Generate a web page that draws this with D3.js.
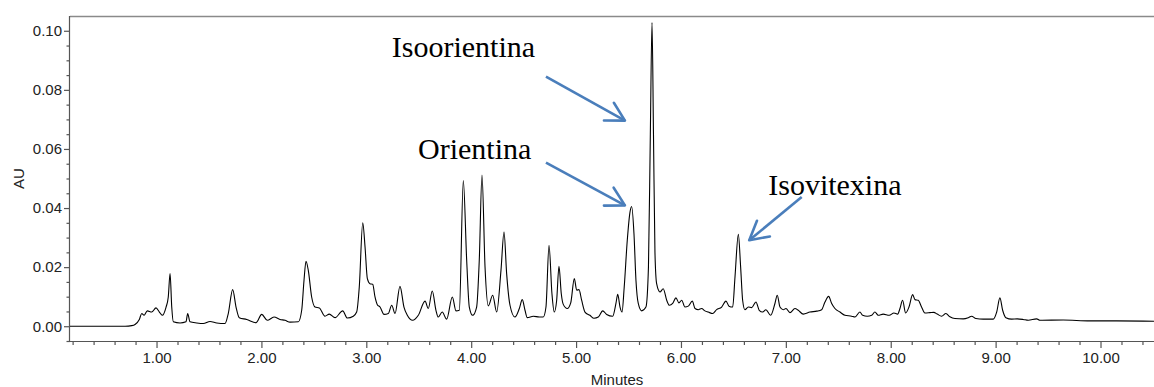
<!DOCTYPE html>
<html>
<head>
<meta charset="utf-8">
<script src="https://cdn.jsdelivr.net/npm/d3@7"></script>
<style>
    body { margin: 0; background: #fff; }
    #chart { width: 1154px; height: 387px; }
</style>
</head>
<body>
<div id="chart"></div>
<script>
// retention time (min) and absorbance (AU)
const times = [
    0.175, 0.70, 0.764, 0.795, 0.836, 0.859, 0.881, 0.912, 0.954, 0.995,
    1.027, 1.055, 1.091, 1.112, 1.129, 1.145, 1.160, 1.224, 1.281, 1.297,
    1.319, 1.383, 1.446, 1.510, 1.574, 1.653, 1.684, 1.726, 1.758, 1.789,
    1.860, 1.949, 2.003, 2.056, 2.120, 2.177, 2.225, 2.273, 2.352, 2.384,
    2.406, 2.425, 2.447, 2.479, 2.511, 2.552, 2.606, 2.647, 2.702, 2.775,
    2.819, 2.876, 2.908, 2.933, 2.966, 2.988, 3.010, 3.035, 3.061, 3.083,
    3.105, 3.131, 3.169, 3.210, 3.242, 3.274, 3.321, 3.359, 3.391, 3.442,
    3.496, 3.560, 3.591, 3.629, 3.664, 3.686, 3.724, 3.766, 3.820, 3.855,
    3.887, 3.925, 3.957, 3.982, 4.014, 4.052, 4.077, 4.103, 4.132, 4.163,
    4.205, 4.243, 4.284, 4.313, 4.338, 4.370, 4.417, 4.459, 4.487, 4.513,
    4.535, 4.592, 4.649, 4.687, 4.713, 4.742, 4.770, 4.792, 4.815, 4.837,
    4.859, 4.878, 4.916, 4.949, 4.983, 5.006, 5.028, 5.053, 5.085, 5.132,
    5.171, 5.212, 5.254, 5.292, 5.349, 5.380, 5.397, 5.419, 5.438, 5.459,
    5.488, 5.514, 5.530, 5.552, 5.571, 5.593, 5.625, 5.666, 5.690, 5.708,
    5.724, 5.738, 5.752, 5.768, 5.800, 5.831, 5.864, 5.889, 5.921, 5.952,
    5.981, 6.007, 6.038, 6.070, 6.108, 6.134, 6.165, 6.197, 6.229, 6.260,
    6.302, 6.340, 6.388, 6.429, 6.458, 6.493, 6.515, 6.547, 6.569, 6.588,
    6.610, 6.642, 6.674, 6.715, 6.746, 6.779, 6.810, 6.855, 6.896, 6.918,
    6.944, 6.975, 7.001, 7.039, 7.087, 7.118, 7.166, 7.230, 7.294, 7.341,
    7.373, 7.408, 7.437, 7.468, 7.516, 7.563, 7.627, 7.659, 7.706, 7.732,
    7.776, 7.818, 7.849, 7.881, 7.928, 7.986, 8.031, 8.066, 8.088, 8.113,
    8.142, 8.174, 8.209, 8.231, 8.262, 8.294, 8.325, 8.373, 8.411, 8.443,
    8.485, 8.526, 8.564, 8.612, 8.691, 8.739, 8.771, 8.812, 8.882, 8.977,
    9.010, 9.041, 9.067, 9.098, 9.153, 9.206, 9.263, 9.311, 9.391, 9.422,
    9.644, 9.899, 10.153, 10.51
]

const absorbance = [
    0.0000, 0.0000, 0.0002, 0.0006, 0.0023, 0.0043, 0.0037, 0.0052, 0.0048, 0.0062,
    0.0048, 0.0037, 0.0065, 0.0099, 0.0178, 0.0065, 0.0015, 0.0011, 0.0015, 0.0043,
    0.0015, 0.0011, 0.0009, 0.0016, 0.0011, 0.0009, 0.0043, 0.0124, 0.0065, 0.0029,
    0.0023, 0.0012, 0.0040, 0.0020, 0.0031, 0.0023, 0.0020, 0.0014, 0.0015, 0.0054,
    0.0155, 0.0220, 0.0189, 0.0099, 0.0065, 0.0062, 0.0034, 0.0041, 0.0029, 0.0052,
    0.0028, 0.0034, 0.0048, 0.0133, 0.0350, 0.0268, 0.0161, 0.0144, 0.0142, 0.0099,
    0.0073, 0.0065, 0.0040, 0.0043, 0.0071, 0.0043, 0.0135, 0.0065, 0.0037, 0.0020,
    0.0037, 0.0085, 0.0060, 0.0119, 0.0054, 0.0031, 0.0048, 0.0024, 0.0099, 0.0052,
    0.0054, 0.0493, 0.0223, 0.0065, 0.0037, 0.0065, 0.0223, 0.0512, 0.0200, 0.0069,
    0.0105, 0.0048, 0.0189, 0.0319, 0.0178, 0.0071, 0.0031, 0.0060, 0.0090, 0.0054,
    0.0029, 0.0034, 0.0031, 0.0031, 0.0065, 0.0274, 0.0110, 0.0048, 0.0088, 0.0203,
    0.0110, 0.0074, 0.0060, 0.0079, 0.0161, 0.0122, 0.0124, 0.0088, 0.0048, 0.0037,
    0.0027, 0.0031, 0.0052, 0.0040, 0.0034, 0.0077, 0.0108, 0.0065, 0.0048, 0.0133,
    0.0290, 0.0386, 0.0405, 0.0313, 0.0155, 0.0077, 0.0052, 0.0065, 0.0200, 0.0650,
    0.1028, 0.0650, 0.0250, 0.0144, 0.0116, 0.0127, 0.0088, 0.0071, 0.0077, 0.0096,
    0.0079, 0.0088, 0.0065, 0.0068, 0.0085, 0.0060, 0.0056, 0.0060, 0.0052, 0.0048,
    0.0043, 0.0056, 0.0065, 0.0085, 0.0068, 0.0065, 0.0166, 0.0311, 0.0200, 0.0088,
    0.0056, 0.0065, 0.0063, 0.0082, 0.0054, 0.0048, 0.0056, 0.0037, 0.0077, 0.0105,
    0.0065, 0.0056, 0.0060, 0.0046, 0.0060, 0.0054, 0.0041, 0.0048, 0.0051, 0.0056,
    0.0082, 0.0101, 0.0077, 0.0060, 0.0048, 0.0037, 0.0034, 0.0031, 0.0048, 0.0037,
    0.0034, 0.0037, 0.0048, 0.0037, 0.0041, 0.0037, 0.0045, 0.0041, 0.0060, 0.0088,
    0.0045, 0.0065, 0.0107, 0.0090, 0.0088, 0.0065, 0.0045, 0.0046, 0.0047, 0.0041,
    0.0034, 0.0043, 0.0032, 0.0026, 0.0025, 0.0029, 0.0034, 0.0026, 0.0024, 0.0024,
    0.0048, 0.0096, 0.0054, 0.0029, 0.0024, 0.0025, 0.0023, 0.0020, 0.0025, 0.0020,
    0.0021, 0.0018, 0.0018, 0.0017
]

const x_major = [1, 2, 3, 4, 5, 6, 7, 8, 9, 10]
const x_minor = [0.2, 0.4, 0.6, 0.8, 1.2, 1.4, 1.6, 1.8, 2.2, 2.4, 2.6, 2.8,
    3.2, 3.4, 3.6, 3.8, 4.2, 4.4, 4.6, 4.8, 5.2, 5.4, 5.6, 5.8, 6.2, 6.4, 6.6, 6.8,
    7.2, 7.4, 7.6, 7.8, 8.2, 8.4, 8.6, 8.8, 9.2, 9.4, 9.6, 9.8, 10.2, 10.4]
const y_major = [0, 0.02, 0.04, 0.06, 0.08, 0.10]
const y_minor = [-0.005, 0.005, 0.01, 0.015, 0.025, 0.03, 0.035, 0.045, 0.05, 0.055,
    0.065, 0.07, 0.075, 0.085, 0.09, 0.095]

// peak labels: text position, arrow tail and arrow tip (minutes, AU)
const peak_names = ["Isoorientina", "Orientina", "Isovitexina"]
const label_pos = [[3.243, 0.0912], [3.493, 0.0567], [6.832, 0.0443]]
const arrow_from = [[4.713, 0.0845], [4.713, 0.0554], [7.151, 0.0437]]
const arrow_to = [[5.466, 0.0696], [5.466, 0.0409], [6.651, 0.0291]]

const chart_w = 1154, chart_h = 387,
    m_left = 70, m_right = 1154, m_top = 16, m_bottom = 341,
    axis_color = "#555", frame_color = "#8a8a8a", arrow_color = "#4a7ebb",
    sans = "'Liberation Sans', Arial, sans-serif",
    serif = "'Liberation Serif', 'Times New Roman', serif"

const svg = d3.select("#chart")
    .append("svg")
    .attr("width", chart_w)
    .attr("height", chart_h)

const x = d3.scaleLinear().domain([0.175, 10.51]).range([m_left, m_right])
const y = d3.scaleLinear().domain([-0.005, 0.105]).range([m_bottom, m_top])

// top frame line
svg.append("line")
    .attr("x1", m_left).attr("x2", m_right)
    .attr("y1", m_top + 0.5).attr("y2", m_top + 0.5)
    .attr("stroke", frame_color)
    .attr("stroke-width", 1.5)

// minor ticks first, majors with labels on top
svg.append("g")
    .attr("transform", `translate(0,${m_bottom})`)
    .call(d3.axisBottom(x).tickValues(x_minor).tickSize(4).tickFormat(""))
    .call(g => g.select(".domain").remove())

svg.append("g")
    .attr("class", "x-axis")
    .attr("transform", `translate(0,${m_bottom})`)
    .call(d3.axisBottom(x).tickValues(x_major).tickSize(7).tickPadding(4)
        .tickFormat(d3.format(".2f")))

svg.append("g")
    .attr("transform", `translate(${m_left},0)`)
    .call(d3.axisLeft(y).tickValues(y_minor).tickSize(3.5).tickFormat(""))
    .call(g => g.select(".domain").remove())

svg.append("g")
    .attr("class", "y-axis")
    .attr("transform", `translate(${m_left},0)`)
    .call(d3.axisLeft(y).tickValues(y_major).tickSize(6).tickPadding(2)
        .tickFormat(d3.format(".2f")))

svg.selectAll(".tick line, .domain")
    .attr("stroke", axis_color)
    .attr("stroke-width", 1.2)

svg.selectAll(".tick text")
    .attr("fill", "#222")
    .style("font-family", sans)
    .style("font-size", "15px")

svg.select(".x-axis .domain").attr("d", `M${m_left},0.5H${m_right}`)
svg.select(".y-axis .domain").attr("d", `M-0.5,${m_top}V${m_bottom}`)

// axis titles
svg.append("text")
    .attr("transform", `translate(24,${(m_top + m_bottom) / 2}) rotate(-90)`)
    .attr("text-anchor", "middle")
    .style("font-family", sans)
    .style("font-size", "15px")
    .attr("fill", "#222")
    .text("AU")

svg.append("text")
    .attr("x", 617)
    .attr("y", 385)
    .attr("text-anchor", "middle")
    .style("font-family", sans)
    .style("font-size", "15px")
    .attr("fill", "#222")
    .text("Minutes")

// chromatogram trace
const trace = times.map((t, i) => [t, absorbance[i]])

svg.append("path")
    .datum(trace)
    .attr("fill", "none")
    .attr("stroke", "#000")
    .attr("stroke-width", 1.1)
    .attr("stroke-linejoin", "round")
    .attr("d", d3.line()
        .x(d => x(d[0]))
        .y(d => y(d[1]))
        .curve(d3.curveMonotoneX))

// annotations
const labels = svg.append("g")

peak_names.forEach((name, i) => {
    labels.append("text")
        .attr("x", x(label_pos[i][0]))
        .attr("y", y(label_pos[i][1]))
        .style("font-family", serif)
        .style("font-size", "30px")
        .attr("fill", "#000")
        .text(name)

    let x1 = x(arrow_from[i][0]), y1 = y(arrow_from[i][1]),
        x2 = x(arrow_to[i][0]), y2 = y(arrow_to[i][1])
    let ang = Math.atan2(y1 - y2, x1 - x2),
        head = 21, spread = 29 * Math.PI / 180

    labels.append("line")
        .attr("x1", x1).attr("y1", y1)
        .attr("x2", x2).attr("y2", y2)
        .attr("stroke", arrow_color)
        .attr("stroke-width", 2.6)

    labels.append("path")
        .attr("d", "M" + (x2 + head * Math.cos(ang - spread)) + "," + (y2 + head * Math.sin(ang - spread))
            + "L" + x2 + "," + y2
            + "L" + (x2 + head * Math.cos(ang + spread)) + "," + (y2 + head * Math.sin(ang + spread)))
        .attr("fill", "none")
        .attr("stroke", arrow_color)
        .attr("stroke-width", 2.6)
        .attr("stroke-linecap", "round")
        .attr("stroke-linejoin", "round")
})
</script>
</body>
</html>
